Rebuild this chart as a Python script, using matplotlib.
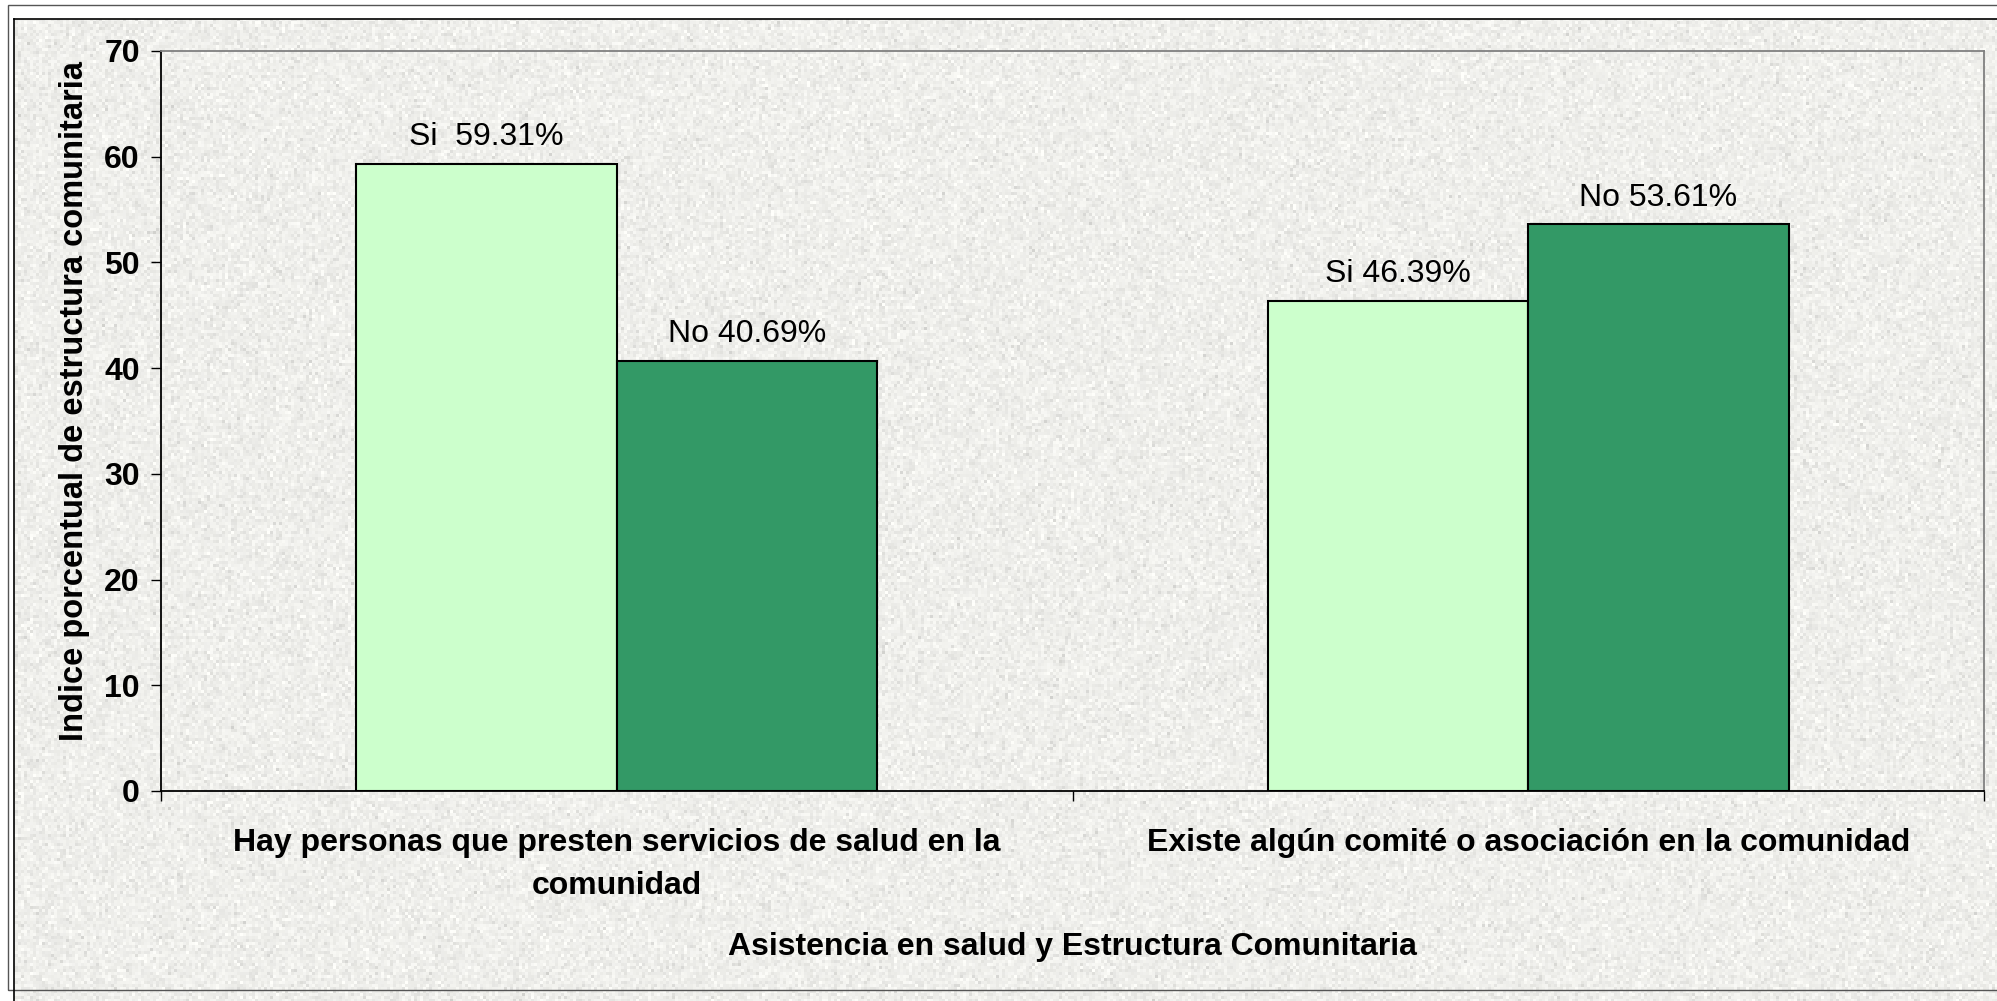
import matplotlib
matplotlib.use("Agg")
import matplotlib.pyplot as plt
import numpy as np
from matplotlib.patches import Rectangle

# data
categories = ["Hay personas que presten servicios de salud en la\ncomunidad",
              "Existe algún comité o asociación en la comunidad"]
si_values = [59.31, 46.39]
no_values = [40.69, 53.61]
si_labels = ["Si  59.31%", "Si 46.39%"]
no_labels = ["No 40.69%", "No 53.61%"]
yticks = [0, 10, 20, 30, 40, 50, 60, 70]

LIGHT = "#CCFFCC"
DARK = "#339966"
FS = 23
plt.rcParams["font.family"] = ["Liberation Sans", "DejaVu Sans"]

W, H = 1997, 1001
fig = plt.figure(figsize=(W / 100, H / 100), dpi=100)
fig.patch.set_facecolor("white")

# granite-like paper texture behind the chart (decoration only)
rng = np.random.default_rng(3)
small = rng.normal(0, 1, (H // 3 + 1, W // 3 + 1))
tex = 0.94 + 0.025 * small
spots = rng.random(small.shape) < 0.05
tex[spots] -= 0.05
tex = np.kron(tex, np.ones((3, 3)))[:H, :W]
tex = np.clip(tex, 0.82, 1.0)
rgb = np.dstack([tex, tex, tex * 0.985])
bg = fig.add_axes([14 / W, 0, 1 - 14 / W, 1 - 19 / H], zorder=0)
bg.imshow(rgb[19:, 14:], aspect="auto", interpolation="nearest")
bg.axis("off")

# frame lines
fig.add_artist(Rectangle((8 / W, 1 - 990 / H), 1.2, (990 - 5) / H,
                         transform=fig.transFigure, fill=False,
                         edgecolor="#555555", lw=1.0, zorder=1))
fig.add_artist(plt.Line2D([14 / W, 1], [1 - 19 / H] * 2, color="black", lw=1.2,
                          transform=fig.transFigure, zorder=2))
fig.add_artist(plt.Line2D([14 / W] * 2, [0, 1 - 19 / H], color="black", lw=1.2,
                          transform=fig.transFigure, zorder=2))

ax = fig.add_axes([161 / W, 1 - 791 / H, (1984 - 161) / W, (791 - 51) / H], zorder=3)
ax.set_facecolor("none")

x = np.arange(len(categories))
bw = 1 / 3.5
ax.bar(x - bw / 2, si_values, bw, color=LIGHT, edgecolor="black", lw=1.5)
ax.bar(x + bw / 2, no_values, bw, color=DARK, edgecolor="black", lw=1.5)

for i in range(len(categories)):
    ax.text(x[i] - bw / 2, si_values[i] + 1.1, si_labels[i], ha="center",
            va="bottom", fontsize=FS)
    ax.text(x[i] + bw / 2, no_values[i] + 1.1, no_labels[i], ha="center",
            va="bottom", fontsize=FS)

ax.set_xlim(-0.5, len(categories) - 0.5)
ax.set_ylim(0, 70)
ax.set_yticks(yticks)
ax.set_yticklabels([str(t) for t in yticks], fontsize=FS, fontweight="bold")
ax.tick_params(axis="y", direction="out", length=7.2, width=1, pad=8)

ax.set_xticks(x)
ax.set_xticklabels(categories, fontsize=FS, fontweight="bold", va="top",
                   linespacing=1.55)
ax.tick_params(axis="x", which="major", length=0, pad=27)
ax.set_xticks(np.arange(-0.5, len(categories)), minor=True)
ax.tick_params(axis="x", which="minor", direction="out", length=7.2, width=1)

for s in ["left", "bottom"]:
    ax.spines[s].set_color("black")
    ax.spines[s].set_linewidth(1.3)
for s in ["top", "right"]:
    ax.spines[s].set_color("#808080")
    ax.spines[s].set_linewidth(1.3)

ax.set_ylabel("Indice porcentual de estructura comunitaria", fontsize=23.5,
              fontweight="bold")
ax.yaxis.set_label_coords(-0.039, 0.527)
ax.set_xlabel("Asistencia en salud y Estructura Comunitaria", fontsize=FS,
              fontweight="bold", labelpad=22)

fig.savefig("out.png", dpi=100)
